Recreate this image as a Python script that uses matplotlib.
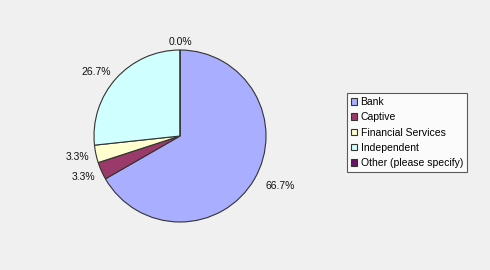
import matplotlib
matplotlib.use("Agg")
import matplotlib.pyplot as plt

plt.rcParams["font.family"] = ["Liberation Sans", "DejaVu Sans"]

categories = ["Bank", "Captive", "Financial Services", "Independent", "Other (please specify)"]
shares = [66.7, 3.3, 3.3, 26.7, 0.0]
colors = ["#A9AEFF", "#9A3A6A", "#FFFFD0", "#D0FFFF", "#6A1468"]

# label spots (in pie radius units) tuned to the original layout
label_pos = [(1.17, -0.58), (-1.12, -0.48), (-1.19, -0.24), (-0.98, 0.74), (0.0, 1.09)]

fig = plt.figure(figsize=(4.9, 2.7), dpi=100)
fig.patch.set_facecolor("#F0F0F0")

# pie centre at about (180,136) px, radius 86 px
ax = fig.add_axes([(180 - 86) / 490, (270 - 136 - 86) / 270, 172 / 490, 172 / 270])
ax.set_facecolor("none")
wedges, texts, autotexts = ax.pie(
    shares, colors=colors, startangle=90, counterclock=False,
    autopct="%.1f%%", pctdistance=1.2,
    wedgeprops=dict(edgecolor="#333333", linewidth=0.8),
    textprops=dict(fontsize=7.5, color="#111111"))
for t, p in zip(autotexts, label_pos):
    t.set_position(p)
ax.set_xlim(-1, 1)
ax.set_ylim(-1, 1)
ax.set_aspect("equal")
ax.axis("off")

leg = fig.legend(wedges, categories, loc="upper left",
                 bbox_to_anchor=(347 / 490, 1 - 93 / 270),
                 fontsize=7.5, frameon=True, fancybox=False,
                 handlelength=0.6, handleheight=0.6, handletextpad=0.3,
                 labelspacing=0.5, borderpad=0.4, borderaxespad=0)
leg.get_frame().set_edgecolor("#333333")
leg.get_frame().set_linewidth(0.8)
leg.get_frame().set_facecolor("white")

fig.savefig("out.png", dpi=100, facecolor=fig.get_facecolor())
